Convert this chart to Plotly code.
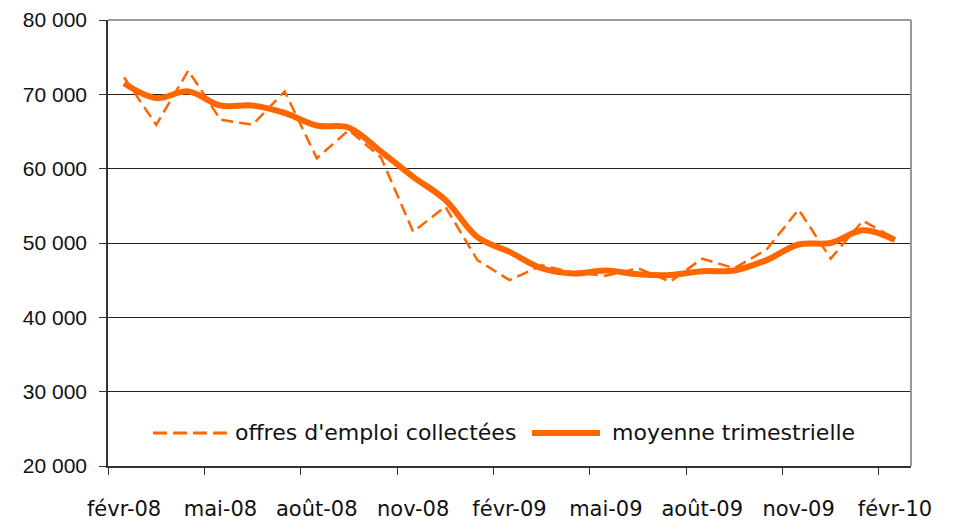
import plotly.graph_objects as go

months = ["févr-08", "mars-08", "avr-08", "mai-08", "juin-08", "juil-08", "août-08",
          "sept-08", "oct-08", "nov-08", "déc-08", "janv-09", "févr-09", "mars-09",
          "avr-09", "mai-09", "juin-09", "juil-09", "août-09", "sept-09", "oct-09",
          "nov-09", "déc-09", "janv-10", "févr-10"]
offres = [72300, 65900, 73200, 66600, 65900, 70400, 61400, 65200, 61500, 51500,
          54900, 47700, 45000, 47000, 46000, 45600, 46600, 44800, 47900, 46600,
          49100, 54500, 47900, 53000, 50600]
moyenne = [71500, 69500, 70400, 68500, 68500, 67500, 65800, 65500, 62300, 58900,
           55800, 50800, 48800, 46600, 45900, 46300, 45800, 45700, 46200, 46300,
           47700, 49800, 50000, 51700, 50400]
y_ticks = [20000, 30000, 40000, 50000, 60000, 70000, 80000]
series_names = ["offres d'emploi collectées", "moyenne trimestrielle"]

idx = list(range(len(months)))
ORANGE = "#FF6600"

fig = go.Figure()
fig.add_trace(go.Scatter(x=idx, y=offres, mode="lines", name=series_names[0],
                         line=dict(color=ORANGE, width=2.5, dash="12px,6px"),
                         showlegend=False))
fig.add_trace(go.Scatter(x=idx, y=moyenne, mode="lines", name=series_names[1],
                         line=dict(color=ORANGE, width=6, shape="spline", smoothing=1),
                         showlegend=False))

# manual legend (long symbols like the original)
ly = 0.074
fig.add_shape(type="line", xref="paper", yref="paper", x0=0.056, x1=0.148, y0=ly, y1=ly,
              line=dict(color=ORANGE, width=3, dash="14px,6px"))
fig.add_annotation(xref="paper", yref="paper", x=0.1557, y=ly, text=series_names[0],
                   showarrow=False, xanchor="left", yanchor="middle",
                   font=dict(family="DejaVu Sans", size=22, color="#111"))
fig.add_shape(type="line", xref="paper", yref="paper", x0=0.528, x1=0.6127, y0=ly, y1=ly,
              line=dict(color=ORANGE, width=6))
fig.add_annotation(xref="paper", yref="paper", x=0.625, y=ly, text=series_names[1],
                   showarrow=False, xanchor="left", yanchor="middle",
                   font=dict(family="DejaVu Sans", size=22, color="#111"))

# top and right plot-area border (grey)
fig.add_shape(type="line", xref="paper", yref="paper", x0=0, x1=1, y0=1, y1=1,
              line=dict(color="#999999", width=2), layer="above")
fig.add_shape(type="line", xref="paper", yref="paper", x0=1, x1=1, y0=0, y1=1,
              line=dict(color="#999999", width=2), layer="above")

# the page places the figure 8px from the top-left corner
fig.update_layout(
    width=946, height=515,
    margin=dict(l=100, r=43, t=12, b=57, autoexpand=False),
    plot_bgcolor="white", paper_bgcolor="white",
    separators=", ",
    font=dict(family="DejaVu Sans", size=21, color="#111"),
    xaxis=dict(
        range=[-0.5, len(months) - 0.5], automargin=False,
        tickmode="array", tickvals=idx[::3], ticktext=months[::3],
        ticks="", showgrid=False, zeroline=False,
        showline=True, linecolor="#333", linewidth=1.5,
        ticklabelstandoff=23,
        tickfont=dict(family="DejaVu Sans", size=21, color="#111"),
        minor=dict(tickmode="array", tickvals=[i - 0.5 for i in idx[::3]],
                   ticks="outside", ticklen=7, tickcolor="#333", tickwidth=1.2,
                   showgrid=False),
    ),
    yaxis=dict(
        range=[20000, 80000], automargin=False, tickmode="array", tickvals=y_ticks,
        tickformat=",d", ticks="outside", ticklen=7, tickcolor="#333",
        showgrid=True, gridcolor="#222", gridwidth=1,
        showline=True, linecolor="#333", linewidth=1.5, zeroline=False,
        ticklabelstandoff=8,
        tickfont=dict(family="Liberation Sans", size=21, color="#111"),
    ),
)

fig.write_html("out.html")
